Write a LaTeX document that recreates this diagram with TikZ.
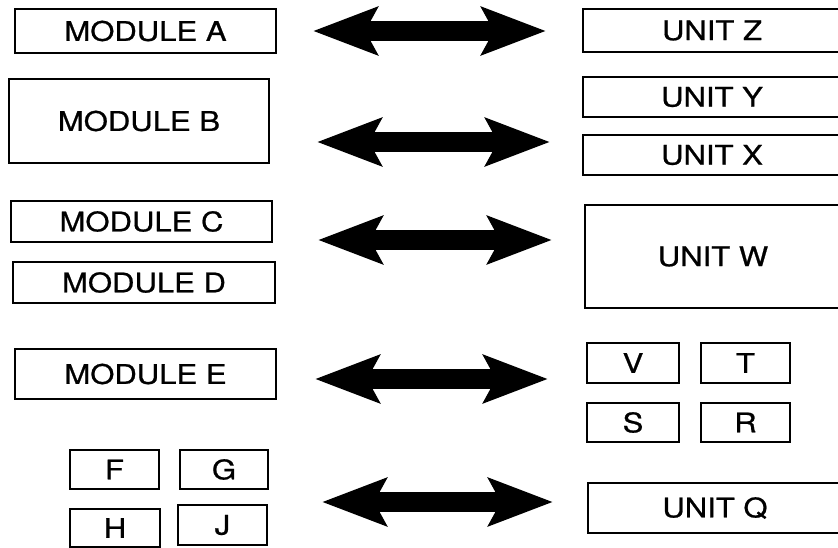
\documentclass[tikz,border=0pt]{standalone}
\usepackage{fontspec}
\usepackage{tikz}
\usetikzlibrary{arrows.meta}
\usetikzlibrary{positioning}
\newfontfamily\boxfont[FakeStretch=1.15,FakeBold=0.8]{TeX Gyre Heros}

\begin{document}
\begin{tikzpicture}[x=1pt,y=-1pt]
  \tikzset{block/.style = {shape=rectangle,draw,line width=1.4pt,inner sep=0pt,font=\boxfont\fontsize{27}{32}\selectfont}}
  \tikzset{fatarrow/.style = {line width=20pt}}
  \tikzset{%
  tipB/.tip={Stealth[length=64pt,width=47pt,inset=12pt]},
}
	\clip (0,0) rectangle (838,548);

	% left column
	\node[block,minimum width=261pt,minimum height=44pt] (MA) at (145.5,31) {MODULE A};
	\node[block,minimum width=260pt,minimum height=84pt] (MB) at (139,121) {MODULE B};
	\node[block,minimum width=261pt,minimum height=41pt] (MC) at (141.5,221.5) {MODULE C};
	\node[block,minimum width=262pt,minimum height=41pt] (MD) at (144,282.5) {MODULE D};
	\node[block,minimum width=261pt,minimum height=50pt] (ME) at (145.5,374) {MODULE E};
	\node[block,minimum width=89pt,minimum height=39pt] (F) at (114.5,469.5) {F};
	\node[block,minimum width=88pt,minimum height=39pt] (G) at (224,469.5) {G};
	\node[block,minimum width=90pt,minimum height=38pt] (H) at (115,528) {H};
	\node[block,minimum width=89pt,minimum height=40pt] (J) at (222.5,525) {J};

	% right column (cut by the page edge)
	\node[block,minimum width=270pt,minimum height=43pt] (UZ) at (718,30.5) {\hspace*{-12pt}UNIT Z};
	\node[block,minimum width=270pt,minimum height=40pt] (UY) at (718,97) {\hspace*{-12pt}UNIT Y};
	\node[block,minimum width=270pt,minimum height=40pt] (UX) at (718,155) {\hspace*{-12pt}UNIT X};
	\node[block,minimum width=268pt,minimum height=103pt] (UW) at (719,256.5) {\hspace*{-12pt}UNIT W};
	\node[block,minimum width=92pt,minimum height=40pt] (V) at (633,363) {V};
	\node[block,minimum width=89pt,minimum height=40pt] (T) at (745.5,363) {T};
	\node[block,minimum width=92pt,minimum height=39pt] (S) at (633,422.5) {S};
	\node[block,minimum width=89pt,minimum height=39pt] (R) at (745.5,422.5) {R};
	\node[block,minimum width=266pt,minimum height=50pt] (UQ) at (721,508) {\hspace*{-12pt}UNIT Q};

	% arrow ends
	\coordinate (L1) at (313,31);  \coordinate (R1) at (546,31);
	\coordinate (L2) at (317,142); \coordinate (R2) at (550,142);
	\coordinate (L3) at (318,240); \coordinate (R3) at (552,240);
	\coordinate (L4) at (315,379); \coordinate (R4) at (548,379);
	\coordinate (L5) at (322,502); \coordinate (R5) at (553,502);

    \foreach \from/\to in {L1/R1, L2/R2, L3/R3, L4/R4, L5/R5}
    \draw[fatarrow,tipB-tipB](\from) -- (\to);

\end{tikzpicture}
\end{document}
